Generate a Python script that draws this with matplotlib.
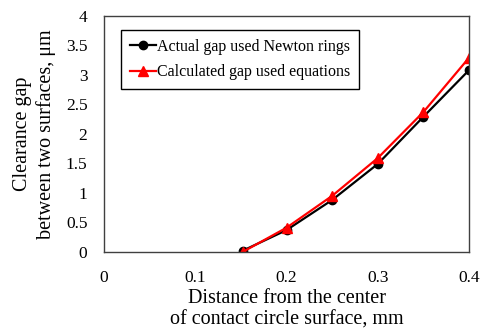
import matplotlib
matplotlib.use("Agg")
import matplotlib.pyplot as plt

# distance from center of contact circle, mm
distance = [0.152, 0.2, 0.25, 0.3, 0.35, 0.4]
actual_gap = [0.02, 0.37, 0.88, 1.49, 2.29, 3.08]
calc_gap = [0.0, 0.41, 0.95, 1.59, 2.37, 3.29]

plt.rcParams['font.family'] = ['Liberation Serif', 'DejaVu Serif']

fig = plt.figure(figsize=(4.82, 3.31), dpi=100)
ax = fig.add_axes([0.216, 0.239, 0.757, 0.713])

ax.plot(distance, actual_gap, color='black', marker='o', markersize=6,
        linewidth=1.6, label='Actual gap used Newton rings')
ax.plot(distance, calc_gap, color='red', marker='^', markersize=7,
        linewidth=1.6, label='Calculated gap used equations')

ax.set_xlim(0, 0.4)
ax.set_ylim(0, 4)
ax.set_xticks([0, 0.1, 0.2, 0.3, 0.4])
ax.set_xticklabels(['0', '0.1', '0.2', '0.3', '0.4'])
ax.set_yticks([0, 0.5, 1, 1.5, 2, 2.5, 3, 3.5, 4])
ax.set_yticklabels(['0', '0.5', '1', '1.5', '2', '2.5', '3', '3.5', '4'])
ax.tick_params(length=0, labelsize=12.5)
ax.tick_params(axis='y', pad=12)
ax.tick_params(axis='x', pad=13)
for s in ax.spines.values():
    s.set_color('#404040')
    s.set_linewidth(1.0)

ax.set_xlabel('Distance from the center\nof contact circle surface, mm',
              fontsize=14.5, labelpad=2, linespacing=1.2)
ax.set_ylabel('Clearance gap\nbetween two surfaces, \u03bcm',
              fontsize=14.5, labelpad=7, linespacing=1.25)

leg = ax.legend(loc='upper left', bbox_to_anchor=(0.047, 0.94), fontsize=11.5,
                fancybox=False, framealpha=1, edgecolor='black',
                handlelength=1.6, handletextpad=0.1, borderpad=0.55,
                labelspacing=0.6, borderaxespad=0)
leg.get_frame().set_linewidth(1.0)

fig.savefig('out.png', dpi=100)
